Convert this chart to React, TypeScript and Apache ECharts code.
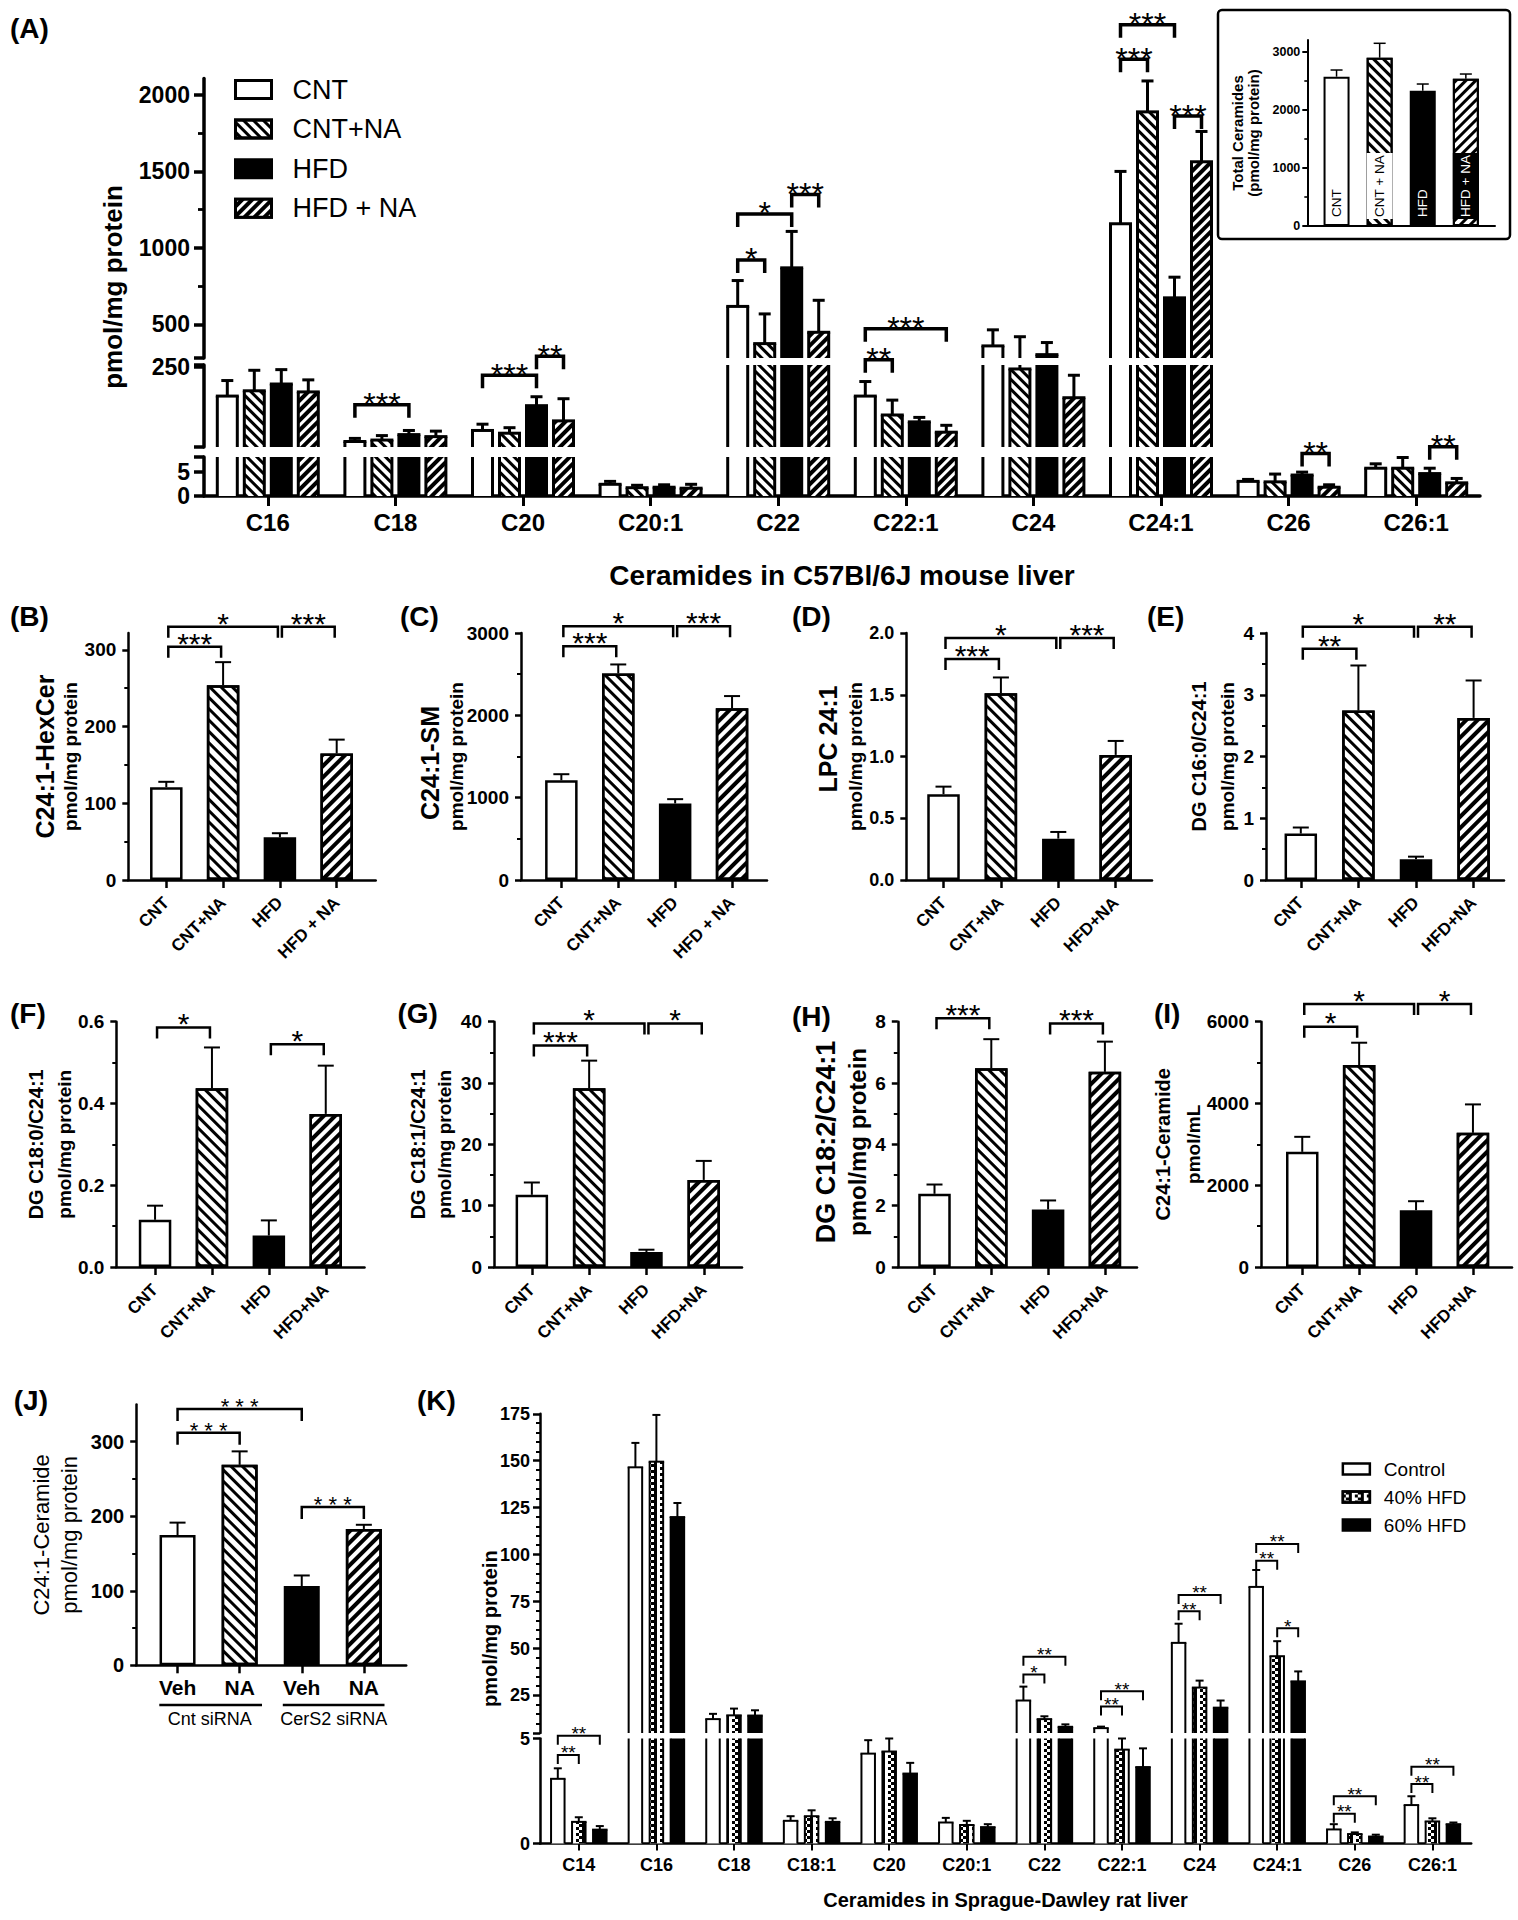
import React, { useEffect, useRef } from 'react';
import * as echarts from 'echarts';

const FONT = '"Liberation Sans", Arial, Helvetica, sans-serif';
const BLACK = '#000';

// ================= Panel A : Ceramides in C57Bl/6J mouse liver =================
const catsA = ['C16', 'C18', 'C20', 'C20:1', 'C22', 'C22:1', 'C24', 'C24:1', 'C26', 'C26:1'];
const groupsA = ['CNT', 'CNT+NA', 'HFD', 'HFD + NA'];
const aCNT = [162, 24.6, 58, 2.4, 617, 162, 359, 1157, 3.0, 5.7];
const aCNTNA = [178, 29, 49.7, 1.7, 374, 104.8, 244, 1888, 2.9, 5.7];
const aHFD = [198.5, 45.5, 133, 1.8, 869, 84, 302, 673, 4.3, 4.6];
const aHFDNA = [174.6, 39.4, 87, 1.6, 448, 52.8, 157, 1562, 1.8, 2.7];
const aCNTErr = [47, 9.4, 19, 0.6, 169, 44, 105, 342, 0.4, 0.9];
const aCNTNAErr = [62, 13.5, 16.7, 0.5, 194, 45, 175, 202, 1.6, 2.2];
const aHFDErr = [43.5, 12.5, 27, 0.5, 238, 13.5, 79, 135, 0.6, 1.1];
const aHFDNAErr = [36.4, 16.6, 67, 0.8, 209, 20.8, 68, 198, 0.5, 0.9];
const ticksATop = [500, 1000, 1500, 2000];
const minorATop = [750, 1250, 1750];
const ticksAMid = [250];
const ticksABot = [0, 5];
// [category, from group, to group, height, label]
const bracketsATop: any[] = [
  [2, 2, 3, 291, '**'],
  [4, 0, 1, 921, '*'],
  [4, 0, 2, 1221, '*'],
  [4, 2, 3, 1348, '***'],
  [5, 0, 3, 470.6, '***'],
  [7, 0, 1, 2232, '***'],
  [7, 0, 2, 2457, '***'],
  [7, 2, 3, 1861, '***'],
];
const bracketsAMid: any[] = [
  [1, 0, 2, 136, '***'],
  [2, 0, 2, 225, '***'],
  [5, 0, 1, 271.7, '**'],
];
const bracketsABot: any[] = [
  [8, 2, 3, 8.7, '**'],
  [9, 2, 3, 10.1, '**'],
];

// ================= Inset : Total ceramides =================
const catsTot = ['CNT', 'CNT + NA', 'HFD', 'HFD + NA'];
const totVals = [2570, 2897, 2329, 2535];
const totErrs = [115, 248, 115, 81];
const ticksTot = [0, 1000, 2000, 3000];
const minorTot = [500, 1500, 2500];

// ================= Panels B - I =================
const catsBC = ['CNT', 'CNT+NA', 'HFD', 'HFD + NA'];
const catsDI = ['CNT', 'CNT+NA', 'HFD', 'HFD+NA'];

const valsB = [121, 254, 55.7, 165];
const errsB = [7, 30, 5.3, 18];
const ticksB = [0, 100, 200, 300];
const minorB = [50, 150, 250];
const brB: any[] = [[0, 1, 304, '***'], [0, 2, 330, '*'], [2, 3, 330, '***']];

const valsC = [1212, 2509, 930, 2085];
const errsC = [73, 109, 52, 149];
const ticksC = [0, 1000, 2000, 3000];
const minorC = [500, 1500, 2500];
const brC: any[] = [[0, 1, 2840, '***'], [0, 2, 3082, '*'], [2, 3, 3082, '***']];

const valsD = [0.695, 1.513, 0.335, 1.013];
const errsD = [0.061, 0.127, 0.054, 0.113];
const ticksD = [0, 0.5, 1.0, 1.5, 2.0];
const minorD: number[] = [];
const brD: any[] = [[0, 1, 1.789, '***'], [0, 2, 1.959, '*'], [2, 3, 1.959, '***']];

const valsE = [0.752, 2.744, 0.336, 2.625];
const errsE = [0.098, 0.73, 0.042, 0.606];
const ticksE = [0, 1, 2, 3, 4];
const minorE = [0.5, 1.5, 2.5, 3.5];
const brE: any[] = [[0, 1, 3.745, '**'], [0, 2, 4.1, '*'], [2, 3, 4.1, '**']];

const valsF = [0.1155, 0.437, 0.077, 0.3745];
const errsF = [0.0345, 0.1, 0.037, 0.118];
const ticksF = [0, 0.2, 0.4, 0.6];
const minorF = [0.1, 0.3, 0.5];
const brF: any[] = [[0, 1, 0.586, '*'], [2, 3, 0.545, '*']];

const valsG = [11.77, 29.15, 2.44, 14.2];
const errsG = [2.01, 4.5, 0.38, 3.1];
const ticksG = [0, 10, 20, 30, 40];
const minorG = [5, 15, 25, 35];
const brG: any[] = [[0, 1, 36.1, '***'], [0, 2, 39.7, '*'], [2, 3, 39.7, '*']];

const valsH = [2.387, 6.485, 1.876, 6.364];
const errsH = [0.303, 0.945, 0.294, 0.986];
const ticksH = [0, 2, 4, 6, 8];
const minorH = [1, 3, 5, 7];
const brH: any[] = [[0, 1, 8.11, '***'], [2, 3, 7.94, '***']];

const valsI = [2816, 4940, 1389, 3282];
const errsI = [368, 546, 220, 695];
const ticksI = [0, 2000, 4000, 6000];
const minorI = [1000, 3000, 5000];
const brI: any[] = [[0, 1, 5878, '*'], [0, 2, 6434, '*'], [2, 3, 6434, '*']];

// ================= Panel J =================
const catsJ = ['Veh', 'NA', 'Veh', 'NA'];
const valsJ = [174.8, 268.9, 106.3, 182.9];
const errsJ = [16.6, 18.1, 14.2, 5.6];
const ticksJ = [0, 100, 200, 300];
const minorJ = [50, 150, 250];
const brJ: any[] = [[0, 1, 312, '* * *'], [0, 2, 343.7, '* * *'], [2, 3, 212.3, '* * *']];

// ================= Panel K : Sprague-Dawley rat liver =================
const catsK = ['C14', 'C16', 'C18', 'C18:1', 'C20', 'C20:1', 'C22', 'C22:1', 'C24', 'C24:1', 'C26', 'C26:1'];
const groupsK = ['Control', '40% HFD', '60% HFD'];
const kCtrl = [3.08, 146.5, 12.4, 1.08, 4.28, 1.0, 22.3, 7.6, 53, 82.8, 0.67, 1.83];
const k40 = [1.03, 149.5, 14.4, 1.3, 4.38, 0.88, 12.4, 4.47, 29.2, 45.9, 0.45, 1.05];
const k60 = [0.66, 120, 14.3, 1.03, 3.33, 0.78, 8.3, 3.64, 18.5, 32.5, 0.33, 0.92];
const kCtrlErr = [0.5, 13, 2.8, 0.22, 0.64, 0.22, 7.4, 0.8, 10.2, 9, 0.25, 0.42];
const k40Err = [0.22, 24.9, 3.6, 0.28, 0.62, 0.2, 1.5, 0.53, 3.7, 8, 0.08, 0.15];
const k60Err = [0.17, 7.5, 2.8, 0.17, 0.51, 0.14, 1.3, 0.89, 3.8, 5.3, 0.09, 0.08];
const ticksKTop = [25, 50, 75, 100, 125, 150, 175];
const minorKTop = [10, 15, 20, 30, 35, 40, 45, 55, 60, 65, 70, 80, 85, 90, 95, 105, 110, 115, 120, 130, 135, 140, 145, 155, 160, 165, 170];
const ticksKBot = [0, 5];
const bracketsKTop: any[] = [
  [6, 0, 1, 36.2, '*'],
  [6, 0, 2, 45.6, '**'],
  [7, 0, 1, 19.1, '**'],
  [7, 0, 2, 27.3, '**'],
  [8, 0, 1, 69.8, '**'],
  [8, 0, 2, 78.5, '**'],
  [9, 0, 1, 96.7, '**'],
  [9, 0, 2, 105.7, '**'],
  [9, 1, 2, 60.8, '*'],
];
const bracketsKBot: any[] = [
  [0, 0, 1, 4.22, '**'],
  [0, 0, 2, 5.13, '**'],
  [10, 0, 1, 1.42, '**'],
  [10, 0, 2, 2.25, '**'],
  [11, 0, 1, 2.83, '**'],
  [11, 0, 2, 3.66, '**'],
];

// ---------------------------------------------------------------------------
// dir = +1 gives "\" hatching, dir = -1 gives "/" hatching
const stripe = (color: string, thick: number, gap: number, dir: number) => ({
  symbol: 'rect', symbolSize: 1, symbolKeepAspect: false, color,
  dashArrayX: [1, 0], dashArrayY: [thick, gap], rotation: (dir * Math.PI) / 4,
});
const checker = { symbol: 'rect', symbolSize: 1, symbolKeepAspect: false, color: BLACK, dashArrayX: [[3, 3], [0, 3, 3]], dashArrayY: [3, 0] };

function buildOption(): any {
  const grid: any[] = [];
  const xAxis: any[] = [];
  const yAxis: any[] = [];
  const series: any[] = [];
  const graphic: any[] = [];
  const legend: any[] = [];
  const ls = (w: number) => ({ color: BLACK, width: w });

  const addGrid = (left: number, top: number, width: number, height: number) => {
    grid.push({ left, top, width, height, containLabel: false });
    return grid.length - 1;
  };
  const addY = (gi: number, min: number, max: number, majors: number[], labels: number[], minors: number[], st: any) => {
    yAxis.push({
      gridIndex: gi, type: 'value', min, max, position: 'left',
      axisLine: { show: true, onZero: false, lineStyle: ls(st.lw) },
      axisTick: { show: true, customValues: majors, length: st.tick, lineStyle: ls(st.lw) },
      axisLabel: labels.length
        ? { show: true, customValues: labels, color: BLACK, fontFamily: FONT, fontWeight: 'bold', fontSize: st.fs, margin: st.margin, formatter: st.fmt || ((v: number) => String(v)) }
        : { show: false },
      splitLine: { show: false },
    });
    const idx = yAxis.length - 1;
    if (minors.length) {
      yAxis.push({
        gridIndex: gi, type: 'value', min, max, position: 'left',
        axisLine: { show: false },
        axisTick: { show: true, customValues: minors, length: st.minor, lineStyle: ls(st.lw * 0.8) },
        axisLabel: { show: false }, splitLine: { show: false },
      });
    }
    return idx;
  };
  const addHiddenY = (gi: number, min: number, max: number) => {
    yAxis.push({ gridIndex: gi, type: 'value', min, max, show: false, splitLine: { show: false } });
    return yAxis.length - 1;
  };
  const addFrameX = (gi: number, lw: number) => {
    xAxis.push({ gridIndex: gi, type: 'value', min: 0, max: 1, axisLine: { show: true, onZero: false, lineStyle: ls(lw) }, axisTick: { show: false }, axisLabel: { show: false }, splitLine: { show: false } });
    return xAxis.length - 1;
  };
  const txtStyle = (text: string, fs: number, weight: string, align: string, valign: string) => ({
    text, fill: BLACK, fontSize: fs, fontWeight: weight, fontFamily: FONT,
    textAlign: align, textVerticalAlign: valign, align, verticalAlign: valign,
  });

  const errSimple = (xi: number, yi: number, vals: number[], errs: number[], lw: number, cap: number) => {
    series.push({
      type: 'custom', name: 'err', xAxisIndex: xi, yAxisIndex: yi, silent: true, z: 3,
      data: vals.map((v, i) => [i, v, errs[i]]),
      encode: { x: 0, y: 1 },
      renderItem: (params: any, api: any) => {
        const i = api.value(0), v = api.value(1), e = api.value(2);
        const p0 = api.coord([i, v]), p1 = api.coord([i, v + e]);
        const st = { stroke: BLACK, lineWidth: lw };
        return {
          type: 'group', children: [
            { type: 'line', shape: { x1: p0[0], y1: p0[1], x2: p1[0], y2: p1[1] }, style: st },
            { type: 'line', shape: { x1: p1[0] - cap / 2, y1: p1[1], x2: p1[0] + cap / 2, y2: p1[1] }, style: st },
          ],
        };
      },
    });
  };
  const brSimple = (xi: number, yi: number, brs: any[], st: any) => {
    series.push({
      type: 'custom', name: 'brk', xAxisIndex: xi, yAxisIndex: yi, silent: true, z: 4,
      data: brs.map((b) => [b[0], b[2]]),
      encode: { x: 0, y: 1 },
      renderItem: (params: any, api: any) => {
        const b = brs[params.dataIndex];
        const pa = api.coord([b[0], b[2]]), pb = api.coord([b[1], b[2]]);
        const x1 = pa[0] + st.inset, x2 = pb[0] - st.inset, y = pa[1];
        return {
          type: 'group', children: [
            { type: 'polyline', shape: { points: [[x1, y + st.leg], [x1, y], [x2, y], [x2, y + st.leg]] }, style: { stroke: BLACK, lineWidth: st.lw, fill: 'none' } },
            { type: 'text', x: (x1 + x2) / 2, y: y - st.dy, style: txtStyle(b[3], st.fs, 'normal', 'center', 'middle') },
          ],
        };
      },
    });
  };
  const outlineErrMulti = (xi: number, yi: number, vals2d: number[][], errs2d: number[][], lo: number, hi: number, cfg: any) => {
    const data: number[][] = [];
    vals2d.forEach((arr, s) => arr.forEach((v, c) => data.push([c, s, v, errs2d[s][c]])));
    series.push({
      type: 'custom', name: 'outline', xAxisIndex: xi, yAxisIndex: yi, silent: true, z: 3,
      data, encode: { x: 0, y: 2 },
      renderItem: (params: any, api: any) => {
        const c = api.value(0), s = api.value(1), v = api.value(2), e = api.value(3);
        const xc = api.coord([c, lo])[0] + (s - (cfg.n - 1) / 2) * cfg.pitch;
        const Y = (val: number) => api.coord([c, val])[1];
        const st = { stroke: BLACK, lineWidth: cfg.lw };
        const ch: any[] = [];
        const seg = (x1: number, y1: number, x2: number, y2: number) => ch.push({ type: 'line', shape: { x1, y1, x2, y2 }, style: st });
        if (v > lo) {
          const yb = Y(lo), yt = Y(Math.min(v, hi));
          seg(xc - cfg.hw, yb, xc - cfg.hw, yt);
          seg(xc + cfg.hw, yb, xc + cfg.hw, yt);
          if (v <= hi) seg(xc - cfg.hw - cfg.lw / 2, yt, xc + cfg.hw + cfg.lw / 2, yt);
        }
        const t = v + e;
        if (t > lo && v < hi) {
          const ya = Y(Math.max(v, lo)), yb2 = Y(Math.min(t, hi));
          seg(xc, ya, xc, yb2);
          if (t <= hi) seg(xc - cfg.cap / 2, yb2, xc + cfg.cap / 2, yb2);
        }
        return { type: 'group', children: ch };
      },
    });
  };
  const brMulti = (xi: number, yi: number, brs: any[], cfg: any) => {
    if (!brs.length) return;
    series.push({
      type: 'custom', name: 'brk', xAxisIndex: xi, yAxisIndex: yi, silent: true, z: 4,
      data: brs.map((b) => [b[0], b[3]]),
      encode: { x: 0, y: 1 },
      renderItem: (params: any, api: any) => {
        const b = brs[params.dataIndex];
        const p = api.coord([b[0], b[3]]);
        const off = (s: number) => (s - (cfg.n - 1) / 2) * cfg.pitch;
        const x1 = p[0] + off(b[1]), x2 = p[0] + off(b[2]), y = p[1];
        return {
          type: 'group', children: [
            { type: 'polyline', shape: { points: [[x1, y + cfg.leg], [x1, y], [x2, y], [x2, y + cfg.leg]] }, style: { stroke: BLACK, lineWidth: cfg.blw, fill: 'none' } },
            { type: 'text', x: (x1 + x2) / 2, y: y - cfg.dy, style: txtStyle(b[4], cfg.fs, 'normal', 'center', 'middle') },
          ],
        };
      },
    });
  };

  // ======================= Panel A =======================
  const aVals = [aCNT, aCNTNA, aHFD, aHFDNA];
  const aErrs = [aCNTErr, aCNTNAErr, aHFDErr, aHFDNAErr];
  const aFill = ['#fff', '#fff', '#000', '#000'];
  const aDec: any[] = [undefined, stripe(BLACK, 3, 4, 1), undefined, stripe('#fff', 3, 4, -1)];
  const stA = { lw: 3.5, tick: 10, minor: 6, fs: 23, margin: 14 };
  const aSegs = [
    { top: 78.5, bottom: 358, min: 280, max: 2106, majors: [280, ...ticksATop], labels: ticksATop, minors: minorATop, br: bracketsATop },
    { top: 365, bottom: 447, min: 8, max: 256, majors: [8, ...ticksAMid, 256], labels: ticksAMid, minors: [] as number[], br: bracketsAMid },
    { top: 457, bottom: 496, min: 0, max: 8, majors: [...ticksABot, 8], labels: ticksABot, minors: [] as number[], br: bracketsABot },
  ];
  const cfgA = { n: 4, pitch: 27, hw: 10, lw: 3, cap: 12, leg: 13, blw: 3.5, fs: 32, dy: 0.5 };
  aSegs.forEach((sg, k) => {
    const gi = addGrid(204, sg.top, 1276, sg.bottom - sg.top);
    const isBot = k === 2;
    xAxis.push({
      gridIndex: gi, type: 'category', data: catsA, show: isBot,
      axisLine: { show: true, onZero: false, lineStyle: ls(3.5) },
      axisTick: { show: true, alignWithLabel: true, length: 10, lineStyle: ls(3) },
      axisLabel: { interval: 0, color: BLACK, fontFamily: FONT, fontWeight: 'bold', fontSize: 24, margin: 14 },
      name: isBot ? 'Ceramides in C57Bl/6J mouse liver' : '',
      nameLocation: 'middle', nameGap: 65,
      nameTextStyle: { color: BLACK, fontFamily: FONT, fontWeight: 'bold', fontSize: 28 },
      splitLine: { show: false },
    });
    const xi = xAxis.length - 1;
    const yi = addY(gi, sg.min, sg.max, sg.majors, sg.labels, sg.minors, stA);
    groupsA.forEach((g, s) => {
      series.push({
        type: 'bar', name: g, xAxisIndex: xi, yAxisIndex: yi, data: aVals[s],
        barWidth: 20, barGap: '35%', silent: true,
        itemStyle: { color: aFill[s], borderWidth: 0, decal: aDec[s] },
      });
    });
    outlineErrMulti(xi, yi, aVals, aErrs, sg.min, sg.max, cfgA);
    brMulti(xi, yi, sg.br, cfgA);
  });
  legend.push({
    data: groupsA, orient: 'vertical', left: 234, top: 76, padding: 0,
    itemWidth: 36, itemHeight: 18, itemGap: 12.6, icon: 'rect', selectedMode: false,
    itemStyle: { borderColor: BLACK, borderWidth: 3 },
    textStyle: { fontSize: 27, lineHeight: 27, fontFamily: FONT, color: BLACK, padding: [0, 0, 0, 16] },
  });

  // ======================= Inset =======================
  {
    const top = 40.1, bottom = 226;
    const gf = addGrid(1307.3, top, 1495 - 1307.3, bottom - top);
    addFrameX(gf, 2);
    addY(gf, 0, 3200, ticksTot, ticksTot, minorTot, { lw: 2, tick: 5, minor: 3, fs: 12.5, margin: 7 });
    const gb = addGrid(1315, top, 172.4, bottom - top);
    xAxis.push({ gridIndex: gb, type: 'category', data: catsTot, show: false });
    const xi = xAxis.length - 1;
    const yi = addHiddenY(gb, 0, 3200);
    const fill = ['#fff', '#fff', '#000', '#fff'];
    const dec: any[] = [undefined, stripe(BLACK, 3, 4, 1), undefined, stripe(BLACK, 3, 4, -1)];
    const lc = ['#000', '#000', '#fff', '#fff'];
    const lb: any[] = [undefined, '#fff', undefined, '#000'];
    catsTot.forEach((c, s) => {
      series.push({
        type: 'bar', name: 'tot-' + c, xAxisIndex: xi, yAxisIndex: yi, barWidth: 26, barGap: '-100%', silent: true,
        data: totVals.map((v, i) => (i === s ? v : '-')),
        itemStyle: { color: fill[s], borderColor: BLACK, borderWidth: 2, decal: dec[s] },
        label: {
          show: true, position: 'insideBottom', rotate: 90, align: 'left', verticalAlign: 'middle', distance: 7,
          formatter: c, color: lc[s], backgroundColor: lb[s], padding: [6, 2, 6, 2],
          fontSize: 13.5, lineHeight: 14, fontFamily: FONT,
        },
      });
    });
    errSimple(xi, yi, totVals, totErrs, 1.5, 12);
    graphic.push({ type: 'rect', shape: { x: 1218, y: 10, width: 292, height: 229, r: 4 }, style: { fill: 'none', stroke: BLACK, lineWidth: 2.5 }, silent: true });
  }

  // ======================= Panels B - J =======================
  const fillS = ['#fff', '#fff', '#000', '#fff'];
  const decS: any[] = [undefined, stripe(BLACK, 3, 5, 1), undefined, stripe(BLACK, 4, 4, -1)];
  const rotLabel = { interval: 0, rotate: 45, color: BLACK, fontFamily: FONT, fontWeight: 'bold', fontSize: 17, margin: 20 };
  const fmt1 = (v: number) => v.toFixed(1);
  const brSt = { lw: 2.5, leg: 11, fs: 30, dy: 3.7, inset: 2 };
  const simplePanels: any[] = [
    { id: 'B', axisX: 128.3, xEnd: 375.7, top: 633, bottom: 880, bandStart: 137.9, band: 56.8, ymax: 322, cats: catsBC, vals: valsB, errs: errsB, ticks: ticksB, minors: minorB, br: brB },
    { id: 'C', axisX: 521, xEnd: 767, top: 633, bottom: 880, bandStart: 532.9, band: 56.9, ymax: 3000, cats: catsBC, vals: valsC, errs: errsC, ticks: ticksC, minors: minorC, br: brC },
    { id: 'D', axisX: 906.3, xEnd: 1152, top: 633, bottom: 880, bandStart: 914.8, band: 57.4, ymax: 2, cats: catsDI, vals: valsD, errs: errsD, ticks: ticksD, minors: minorD, br: brD, fmt: fmt1, fs: 18 },
    { id: 'E', axisX: 1266, xEnd: 1504, top: 633, bottom: 880, bandStart: 1272, band: 57.6, ymax: 4, cats: catsDI, vals: valsE, errs: errsE, ticks: ticksE, minors: minorE, br: brE },
    { id: 'F', axisX: 116.3, xEnd: 364.5, top: 1021.7, bottom: 1267, bandStart: 126.6, band: 56.9, ymax: 0.6, cats: catsDI, vals: valsF, errs: errsF, ticks: ticksF, minors: minorF, br: brF, fmt: fmt1 },
    { id: 'G', axisX: 494, xEnd: 742, top: 1021.7, bottom: 1267, bandStart: 503.2, band: 57.3, ymax: 40, cats: catsDI, vals: valsG, errs: errsG, ticks: ticksG, minors: minorG, br: brG },
    { id: 'H', axisX: 897.8, xEnd: 1137, top: 1021.7, bottom: 1267, bandStart: 906.1, band: 56.8, ymax: 8, cats: catsDI, vals: valsH, errs: errsH, ticks: ticksH, minors: minorH, br: brH },
    { id: 'I', axisX: 1261, xEnd: 1512, top: 1021.7, bottom: 1267, bandStart: 1273.8, band: 56.9, ymax: 6000, cats: catsDI, vals: valsI, errs: errsI, ticks: ticksI, minors: minorI, br: brI },
    {
      id: 'J', axisX: 136.2, xEnd: 406.2, top: 1404.4, bottom: 1665.3, bandStart: 146.5, band: 62.1, ymax: 350, cats: catsJ, vals: valsJ, errs: errsJ, ticks: ticksJ, minors: minorJ, br: brJ,
      barW: 36, fs: 20, xLabel: { interval: 0, rotate: 0, color: BLACK, fontFamily: FONT, fontWeight: 'bold', fontSize: 21, margin: 12 },
      brSt: { lw: 2.5, leg: 12, fs: 22, dy: 2.4, inset: 0 },
    },
  ];
  simplePanels.forEach((L) => {
    const h = L.bottom - L.top;
    const gf = addGrid(L.axisX, L.top, L.xEnd - L.axisX, h);
    addFrameX(gf, 2.5);
    addY(gf, 0, L.ymax, L.ticks, L.ticks, L.minors, { lw: 2.5, tick: 6, minor: 4, fs: L.fs || 19, margin: 12, fmt: L.fmt });
    const gb = addGrid(L.bandStart, L.top, L.band * L.cats.length, h);
    xAxis.push({
      gridIndex: gb, type: 'category', data: L.cats,
      axisLine: { show: false }, axisTick: { show: true, alignWithLabel: true, length: 8, lineStyle: ls(2.5) },
      axisLabel: L.xLabel || rotLabel, splitLine: { show: false },
    });
    const xi = xAxis.length - 1;
    const yi = addHiddenY(gb, 0, L.ymax);
    L.cats.forEach((c: string, s: number) => {
      series.push({
        type: 'bar', name: L.id + '-' + s, xAxisIndex: xi, yAxisIndex: yi, barWidth: L.barW || 32.5, barGap: '-100%', silent: true,
        data: L.vals.map((v: number, i: number) => (i === s ? v : '-')),
        itemStyle: { color: fillS[s], borderColor: BLACK, borderWidth: 2.5, decal: decS[s] },
      });
    });
    errSimple(xi, yi, L.vals, L.errs, 2, 16);
    brSimple(xi, yi, L.br, L.brSt || brSt);
  });

  // ======================= Panel K =======================
  const kVals = [kCtrl, k40, k60];
  const kErrs = [kCtrlErr, k40Err, k60Err];
  const kFill = ['#fff', '#fff', '#000'];
  const kDec: any[] = [undefined, checker, undefined];
  const stK = { lw: 2.5, tick: 7, minor: 4, fs: 18, margin: 10 };
  const kSegs = [
    { top: 1413.8, bottom: 1733, min: 5, max: 175, majors: [5, ...ticksKTop], labels: ticksKTop, minors: minorKTop, br: bracketsKTop },
    { top: 1738.5, bottom: 1843.5, min: 0, max: 5, majors: ticksKBot, labels: ticksKBot, minors: [] as number[], br: bracketsKBot },
  ];
  const cfgK = { n: 3, pitch: 21, hw: 6.75, lw: 2, cap: 8, leg: 9, blw: 2, fs: 19, dy: 2 };
  kSegs.forEach((sg, k) => {
    const gi = addGrid(540, sg.top, 931.2, sg.bottom - sg.top);
    const isBot = k === 1;
    xAxis.push({
      gridIndex: gi, type: 'category', data: catsK, show: isBot,
      axisLine: { show: true, onZero: false, lineStyle: ls(2.5) },
      axisTick: { show: true, alignWithLabel: true, length: 7, lineStyle: ls(2) },
      axisLabel: { interval: 0, color: BLACK, fontFamily: FONT, fontWeight: 'bold', fontSize: 18, margin: 12 },
      name: isBot ? 'Ceramides in Sprague-Dawley rat liver' : '',
      nameLocation: 'middle', nameGap: 46,
      nameTextStyle: { color: BLACK, fontFamily: FONT, fontWeight: 'bold', fontSize: 20 },
      splitLine: { show: false },
    });
    const xi = xAxis.length - 1;
    const yi = addY(gi, sg.min, sg.max, sg.majors, sg.labels, sg.minors, stK);
    groupsK.forEach((g, s) => {
      series.push({
        type: 'bar', name: g, xAxisIndex: xi, yAxisIndex: yi, data: kVals[s],
        barWidth: 13.5, barGap: '55.6%', silent: true,
        itemStyle: { color: kFill[s], borderWidth: 0, decal: kDec[s] },
      });
    });
    outlineErrMulti(xi, yi, kVals, kErrs, sg.min, sg.max, cfgK);
    brMulti(xi, yi, sg.br, cfgK);
  });
  legend.push({
    data: groupsK, orient: 'vertical', left: 1341.6, top: 1459.5, padding: 0,
    itemWidth: 27, itemHeight: 11, itemGap: 9, icon: 'rect', selectedMode: false,
    itemStyle: { borderColor: BLACK, borderWidth: 2.5 },
    textStyle: { fontSize: 19, lineHeight: 19, fontFamily: FONT, color: BLACK, padding: [0, 0, 0, 9] },
  });

  // ======================= texts =======================
  const letters: any[] = [
    ['(A)', 10, 28], ['(B)', 10, 616.5], ['(C)', 400, 616.5], ['(D)', 792, 616.5], ['(E)', 1147, 616.5],
    ['(F)', 10, 1013], ['(G)', 397.5, 1013], ['(H)', 792, 1016.5], ['(I)', 1154, 1013],
    ['(J)', 13.8, 1400.6], ['(K)', 417, 1400.6],
  ];
  letters.forEach(([t, x, y]) => graphic.push({ type: 'text', x, y, silent: true, style: txtStyle(t, 28, 'bold', 'left', 'middle') }));

  const yTitles: any[] = [
    ['pmol/mg protein', 112.5, 287, 26, 'bold'],
    ['Total Ceramides', 1237, 133, 15, 'bold'], ['(pmol/mg protein)', 1253, 133, 15, 'bold'],
    ['C24:1-HexCer', 44.8, 756.5, 25, 'bold'], ['pmol/mg protein', 70.3, 756.5, 19, 'bold'],
    ['C24:1-SM', 430.2, 763, 25, 'bold'], ['pmol/mg protein', 456.9, 756.5, 19, 'bold'],
    ['LPC 24:1', 828, 739, 25, 'bold'], ['pmol/mg protein', 855, 756.5, 19, 'bold'],
    ['DG C16:0/C24:1', 1199, 756.5, 20, 'bold'], ['pmol/mg protein', 1227.5, 756.5, 19, 'bold'],
    ['DG C18:0/C24:1', 36.4, 1144.3, 20, 'bold'], ['pmol/mg protein', 64.2, 1144.3, 19, 'bold'],
    ['DG C18:1/C24:1', 418, 1144.3, 20, 'bold'], ['pmol/mg protein', 444.3, 1144.3, 19, 'bold'],
    ['DG C18:2/C24:1', 826, 1142, 27, 'bold'], ['pmol/mg protein', 857, 1142, 24, 'bold'],
    ['C24:1-Ceramide', 1163, 1144.3, 20, 'bold'], ['pmol/mL', 1193.6, 1144.3, 19, 'bold'],
    ['C24:1-Ceramide', 41.4, 1534.9, 22, 'normal'], ['pmol/mg protein', 69.7, 1534.9, 22, 'normal'],
    ['pmol/mg protein', 490.4, 1628.7, 20, 'bold'],
  ];
  yTitles.forEach(([t, x, y, fs, w]) => graphic.push({ type: 'text', x, y, rotation: Math.PI / 2, silent: true, style: txtStyle(t, fs, w, 'center', 'middle') }));

  // Panel J group annotations
  graphic.push({ type: 'line', shape: { x1: 159.3, y1: 1705, x2: 262, y2: 1705 }, style: { stroke: BLACK, lineWidth: 2.5 }, silent: true });
  graphic.push({ type: 'line', shape: { x1: 282.8, y1: 1705, x2: 384.5, y2: 1705 }, style: { stroke: BLACK, lineWidth: 2.5 }, silent: true });
  graphic.push({ type: 'text', x: 209.7, y: 1719, silent: true, style: txtStyle('Cnt siRNA', 18, 'normal', 'center', 'middle') });
  graphic.push({ type: 'text', x: 333.8, y: 1719, silent: true, style: txtStyle('CerS2 siRNA', 18, 'normal', 'center', 'middle') });

  return {
    animation: false,
    backgroundColor: '#fff',
    textStyle: { fontFamily: FONT },
    grid, xAxis, yAxis, series, legend, graphic,
  };
}

export default function App() {
  const ref = useRef<HTMLDivElement>(null);
  useEffect(() => {
    const chart = echarts.init(ref.current as HTMLDivElement, null, { renderer: 'svg' });
    chart.setOption(buildOption());
    return () => chart.dispose();
  }, []);
  return <div ref={ref} style={{ position: 'absolute', left: 0, top: 0, width: 1518, height: 1920, background: '#fff' }} />;
}
